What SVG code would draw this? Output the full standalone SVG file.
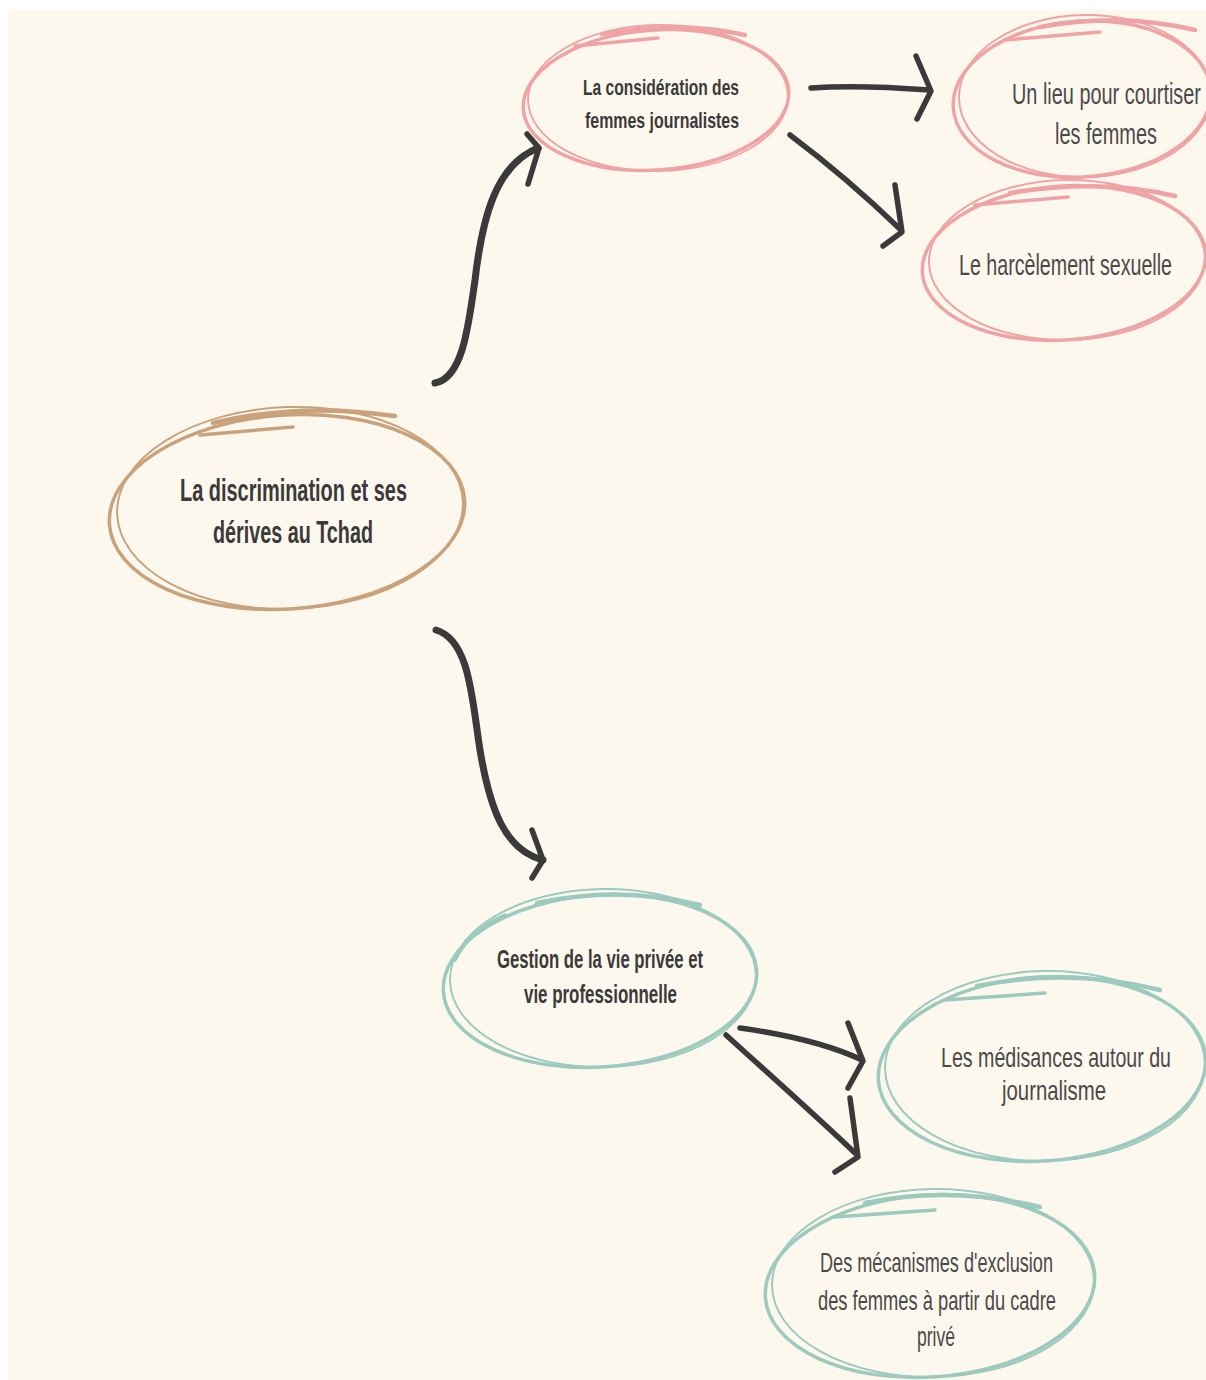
<svg xmlns="http://www.w3.org/2000/svg" width="1206" height="1380" viewBox="0 0 1206 1380">
<style>
.bg{fill:#fdf8ee}
.sk{fill:none;stroke-linecap:round}
.tan{stroke:#c9a27c}
.pink{stroke:#f0a3a5}
.teal{stroke:#9dcabe}
.w1{stroke-width:3.5}
.w2{stroke-width:2}
.w3{stroke-width:4.5}
.t{font-family:"Liberation Sans","DejaVu Sans",sans-serif;fill:#3a3a3a}
.b{font-weight:bold}
.n{font-weight:normal;fill:#4a4a4a}
.c{fill:none;stroke:#3a3a3a;stroke-linecap:round;stroke-linejoin:round}
.cw{stroke-width:7}
.cs{stroke-width:5.5}
.ch{stroke-width:5.5}
</style>
<rect class="bg" x="8" y="10" width="1198" height="1370"/>

<g id="connectors">
  <path class="c cw" d="M 435 383 C 462 378, 468 330, 475 280 C 482 220, 495 165, 538 148"/>
  <path class="c ch" d="M 527 134 L 539 148 L 528 184"/>
  <path class="c cw" d="M 436 630 C 470 640, 472 700, 480 750 C 490 810, 505 850, 543 860"/>
  <path class="c ch" d="M 532 830 L 543 860 L 532 878"/>
  <path class="c cs" d="M 811 88 C 850 85, 890 87, 930 90"/>
  <path class="c ch" d="M 916 56 L 931 91 L 917 119"/>
  <path class="c cs" d="M 790 135 C 830 165, 870 200, 901 230"/>
  <path class="c ch" d="M 895 185 L 902 232 L 883 246"/>
  <path class="c cs" d="M 740 1028 C 790 1035, 830 1045, 862 1060"/>
  <path class="c ch" d="M 848 1023 L 863 1061 L 848 1088"/>
  <path class="c cs" d="M 726 1035 C 770 1075, 815 1115, 855 1153"/>
  <path class="c ch" d="M 850 1098 L 858 1157 L 835 1172"/>
</g>

<g id="node-discrimination">
  <ellipse class="sk tan w1" cx="287" cy="512" rx="178" ry="97" transform="rotate(-4 287 512)"/>
  <ellipse class="sk tan w2" cx="290" cy="508" rx="173" ry="101" transform="rotate(-2 290 508)"/>
  <path class="sk tan w3" d="M 213 423 Q 300 402 395 416"/>
  <path class="sk tan w1" d="M 200 435 L 293 427"/>
  <text class="t b" x="180" y="501" font-size="32" textLength="227" lengthAdjust="spacingAndGlyphs">La discrimination et ses</text>
  <text class="t b" x="213" y="543" font-size="32" textLength="160" lengthAdjust="spacingAndGlyphs">dérives au Tchad</text>
</g>

<g id="node-consideration">
  <ellipse class="sk pink w1" cx="656" cy="100" rx="133" ry="70" transform="rotate(-4 656 100)"/>
  <ellipse class="sk pink w2" cx="658" cy="98" rx="130" ry="73" transform="rotate(-1 658 98)"/>
  <path class="sk pink w3" d="M 602 34 Q 680 20 745 35"/>
  <path class="sk pink w1" d="M 575 46 L 658 38"/>
  <text class="t b" x="583" y="95" font-size="22" textLength="156" lengthAdjust="spacingAndGlyphs">La considération des</text>
  <text class="t b" x="585" y="128" font-size="22" textLength="154" lengthAdjust="spacingAndGlyphs">femmes journalistes</text>
</g>

<g id="node-lieu">
  <ellipse class="sk pink w1" cx="1082" cy="99" rx="129" ry="78" transform="rotate(-4 1082 99)"/>
  <ellipse class="sk pink w2" cx="1085" cy="96" rx="126" ry="81" transform="rotate(-1 1085 96)"/>
  <path class="sk pink w3" d="M 1040 27 Q 1120 12 1195 30"/>
  <path class="sk pink w1" d="M 1005 40 L 1100 32"/>
  <text class="t n" x="1012" y="104" font-size="29" textLength="189" lengthAdjust="spacingAndGlyphs">Un lieu pour courtiser</text>
  <text class="t n" x="1055" y="144" font-size="29" textLength="102" lengthAdjust="spacingAndGlyphs">les femmes</text>
</g>

<g id="node-harcelement">
  <ellipse class="sk pink w1" cx="1064" cy="263" rx="142" ry="77" transform="rotate(-4 1064 263)"/>
  <ellipse class="sk pink w2" cx="1067" cy="260" rx="138" ry="80" transform="rotate(-1 1067 260)"/>
  <path class="sk pink w3" d="M 1010 193 Q 1100 178 1175 196"/>
  <path class="sk pink w1" d="M 975 205 L 1068 197"/>
  <text class="t n" x="959" y="275" font-size="29" textLength="213" lengthAdjust="spacingAndGlyphs">Le harcèlement sexuelle</text>
</g>

<g id="node-gestion">
  <ellipse class="sk teal w1" cx="600" cy="981" rx="157" ry="86" transform="rotate(-4 600 981)"/>
  <ellipse class="sk teal w2" cx="603" cy="978" rx="153" ry="89" transform="rotate(-1 603 978)"/>
  <path class="sk teal w3" d="M 537 903 Q 620 885 700 905"/>
  <path class="sk teal w1" d="M 455 960 Q 470 930 505 915"/>
  <text class="t b" x="497" y="968" font-size="25" textLength="206" lengthAdjust="spacingAndGlyphs">Gestion de la vie privée et</text>
  <text class="t b" x="524" y="1003" font-size="25" textLength="153" lengthAdjust="spacingAndGlyphs">vie professionnelle</text>
</g>

<g id="node-medisances">
  <ellipse class="sk teal w1" cx="1042" cy="1069" rx="164" ry="92" transform="rotate(-4 1042 1069)"/>
  <ellipse class="sk teal w2" cx="1045" cy="1066" rx="160" ry="95" transform="rotate(-1 1045 1066)"/>
  <path class="sk teal w3" d="M 977 986 Q 1070 967 1160 990"/>
  <path class="sk teal w1" d="M 945 1000 L 1045 993"/>
  <text class="t n" x="941" y="1067" font-size="28" textLength="230" lengthAdjust="spacingAndGlyphs">Les médisances autour du</text>
  <text class="t n" x="1002" y="1100" font-size="28" textLength="104" lengthAdjust="spacingAndGlyphs">journalisme</text>
</g>

<g id="node-mecanismes">
  <ellipse class="sk teal w1" cx="930" cy="1286" rx="165" ry="91" transform="rotate(-4 930 1286)"/>
  <ellipse class="sk teal w2" cx="933" cy="1283" rx="161" ry="94" transform="rotate(-1 933 1283)"/>
  <path class="sk teal w3" d="M 865 1203 Q 950 1185 1040 1207"/>
  <path class="sk teal w1" d="M 835 1217 L 935 1210"/>
  <text class="t n" x="820" y="1272" font-size="28" textLength="233" lengthAdjust="spacingAndGlyphs">Des mécanismes d'exclusion</text>
  <text class="t n" x="818" y="1310" font-size="28" textLength="238" lengthAdjust="spacingAndGlyphs">des femmes à partir du cadre</text>
  <text class="t n" x="917" y="1346" font-size="28" textLength="38" lengthAdjust="spacingAndGlyphs">privé</text>
</g>
</svg>
